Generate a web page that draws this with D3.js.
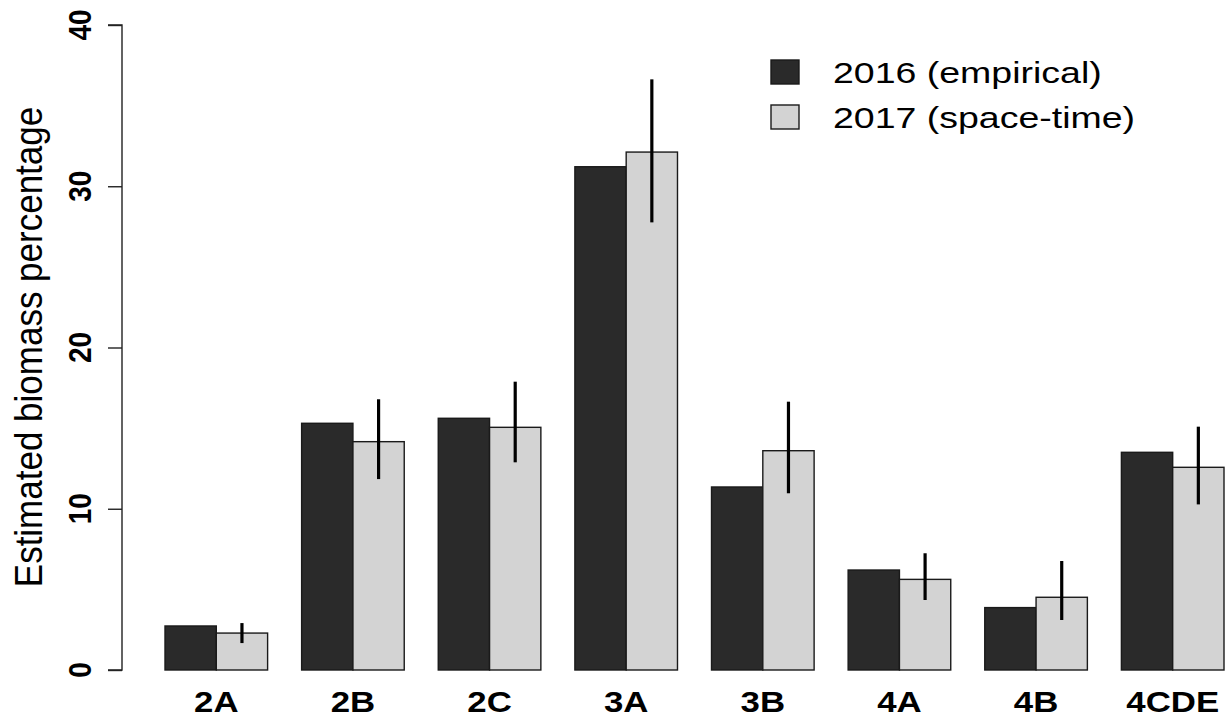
<!DOCTYPE html>
<html>
<head>
<meta charset="utf-8">
<script src="https://cdn.jsdelivr.net/npm/d3@7"></script>
<style>
  html, body { margin: 0; padding: 0; background: #fff; }
  svg { display: block; font-family: Arial, "Liberation Sans", sans-serif; }
</style>
</head>
<body>
<svg id="chart" width="1225" height="725"></svg>
<script>
// Biomass share by regulatory area
const areas = ["2A", "2B", "2C", "3A", "3B", "4A", "4B", "4CDE"];
const seriesNames = ["2016 (empirical)", "2017 (space-time)"];
const empirical2016 = [2.73, 15.30, 15.61, 31.21, 11.35, 6.20, 3.87, 13.50];
const spaceTime2017 = [2.29, 14.16, 15.05, 32.12, 13.60, 5.62, 4.51, 12.57];
const spaceTimeLow  = [1.67, 11.84, 12.88, 27.76, 10.96, 4.34, 3.10, 10.27];
const spaceTimeHigh = [2.91, 16.79, 17.88, 36.63, 16.64, 7.24, 6.76, 15.09];
const yTicks = [0, 10, 20, 30, 40];
const fills = ["#2a2a2a", "#d3d3d3"];

const svg = d3.select("#chart");

const y = d3.scaleLinear().domain([0, 40]).range([670, 25]);
const x = d3.scaleBand().domain(areas).range([165, 1224]).paddingInner(0.249).paddingOuter(0);
const xs = d3.scaleBand().domain([0, 1]).range([0, x.bandwidth()]).padding(0);

// Text glyphs are drawn slightly widened horizontally
const SX = 1.2;

// Bars
const groups = svg.append("g").selectAll("g")
  .data(areas.map((a, i) => ({ area: a, vals: [empirical2016[i], spaceTime2017[i]], lo: spaceTimeLow[i], hi: spaceTimeHigh[i] })))
  .join("g")
  .attr("transform", d => `translate(${x(d.area)},0)`);

groups.selectAll("rect")
  .data(d => d.vals.map((v, k) => ({ v, k })))
  .join("rect")
  .attr("x", d => xs(d.k))
  .attr("y", d => y(d.v))
  .attr("width", xs.bandwidth())
  .attr("height", d => y(0) - y(d.v))
  .attr("fill", d => fills[d.k])
  .attr("stroke", "#1a1a1a")
  .attr("stroke-width", 1.4);

// Interval lines on the space-time bars
groups.append("line")
  .attr("x1", xs(1) + xs.bandwidth() / 2)
  .attr("x2", xs(1) + xs.bandwidth() / 2)
  .attr("y1", d => y(d.hi))
  .attr("y2", d => y(d.lo))
  .attr("stroke", "#000")
  .attr("stroke-width", 3.2);

// Y axis
const yAxis = svg.append("g").attr("transform", "translate(122,0)")
  .call(d3.axisLeft(y).tickValues(yTicks).tickSize(14).tickFormat(""));
yAxis.select(".domain").attr("stroke", "#222").attr("stroke-width", 1.4).attr("d", `M-14,${y(0)}H0V${y(40)}H-14`);
yAxis.selectAll(".tick line").attr("stroke", "#222").attr("stroke-width", 1.4);

svg.append("g").selectAll("text")
  .data(yTicks)
  .join("text")
  .attr("transform", d => `translate(91,${y(d)}) scale(1.15,1) rotate(-90)`)
  .attr("text-anchor", "middle")
  .attr("font-size", 28)
  .attr("font-weight", "bold")
  .attr("fill", "#000")
  .text(d => d);

// Y axis title
svg.append("text")
  .attr("transform", `translate(42,347) scale(1.1,1) rotate(-90)`)
  .attr("text-anchor", "middle")
  .attr("font-size", 35)
  .attr("fill", "#000")
  .text("Estimated biomass percentage");

// Category labels
svg.append("g").selectAll("text")
  .data(areas)
  .join("text")
  .attr("transform", d => `translate(${x(d) + x.bandwidth() / 2},712) scale(${SX},1)`)
  .attr("text-anchor", "middle")
  .attr("font-size", 29)
  .attr("font-weight", "bold")
  .attr("fill", "#000")
  .text(d => d);

// Legend
const legend = svg.append("g").selectAll("g")
  .data(seriesNames)
  .join("g")
  .attr("transform", (d, i) => `translate(771,${60 + i * 45})`);
legend.append("rect")
  .attr("width", 28).attr("height", 24)
  .attr("fill", (d, i) => fills[i])
  .attr("stroke", "#1a1a1a").attr("stroke-width", 1.4);
legend.append("text")
  .attr("transform", `translate(62,23) scale(1.25,1)`)
  .attr("font-size", 30)
  .attr("fill", "#000")
  .text(d => d);
</script>
</body>
</html>
